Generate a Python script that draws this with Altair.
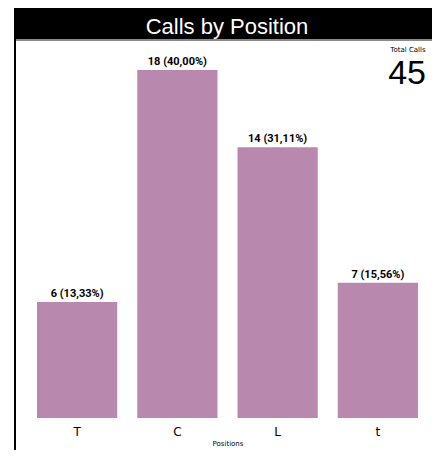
import altair as alt
import pandas as pd

positions = ["T", "C", "L", "t"]
calls = [6, 18, 14, 7]
chart_title = "Calls by Position"
x_title = "Positions"
total_label = "Total Calls"

total = sum(calls)
labels = [f"{v} ({v / total * 100:.2f}%)".replace(".", ",") for v in calls]
df = pd.DataFrame({"position": positions, "calls": calls, "label": labels})

BAR = "#b888ae"
one = alt.Data(values=[{"a": 1}])

x_enc = alt.X(
    "position:N",
    sort=positions,
    title=x_title,
    scale=alt.Scale(paddingInner=0.2, paddingOuter=0.1),
    axis=alt.Axis(
        labelAngle=0, labelFontSize=12, labelColor="#000", labelFont="DejaVu Sans",
        labelPadding=8, domain=False, ticks=False, titleFontSize=7,
        titleFontWeight="normal", titleFont="DejaVu Sans", titleColor="#000", titlePadding=2,
    ),
)
y_enc = alt.Y("calls:Q", scale=alt.Scale(domain=[0, 18], nice=False), axis=None)

bars = alt.Chart(df).mark_bar(color=BAR).encode(x=x_enc, y=y_enc)
text = alt.Chart(df).mark_text(
    baseline="alphabetic", dy=-5, fontSize=11, fontWeight="bold",
    font="Roboto", color="#000"
).encode(x=alt.X("position:N", sort=positions), y="calls:Q", text="label:N")

title_bar = alt.Chart(one).mark_rect(color="#000").encode(
    x=alt.value(-13), x2=alt.value(405), y=alt.value(-62), y2=alt.value(-31)
)
gray_line = alt.Chart(one).mark_rule(color="#8a8a8a", strokeWidth=2).encode(
    x=alt.value(-13), x2=alt.value(405), y=alt.value(-30)
)
left_border = alt.Chart(one).mark_rule(color="#000", strokeWidth=2).encode(
    x=alt.value(-12), y=alt.value(-62), y2=alt.value(390)
)
title_text = alt.Chart(one).mark_text(
    text=chart_title, color="#fff", fontSize=22, font="Liberation Sans",
    align="center", baseline="alphabetic"
).encode(x=alt.value(200), y=alt.value(-36))
total_small = alt.Chart(one).mark_text(
    text=total_label, color="#000", fontSize=7, font="DejaVu Sans",
    align="center", baseline="alphabetic"
).encode(x=alt.value(381), y=alt.value(-18))
total_big = alt.Chart(one).mark_text(
    text=str(total), color="#000", fontSize=34, font="Liberation Sans",
    align="right", baseline="alphabetic"
).encode(x=alt.value(399), y=alt.value(14))

chart = alt.layer(
    bars, text, title_bar, gray_line, left_border, title_text, total_small, total_big
).properties(
    width=401, height=348,
    padding={"left": 19, "top": 62, "right": 4, "bottom": 32},
    autosize=alt.AutoSizeParams(type="none"),
).configure_view(stroke=None)

chart.save("out.html", embed_options={"renderer": "svg", "actions": False})
